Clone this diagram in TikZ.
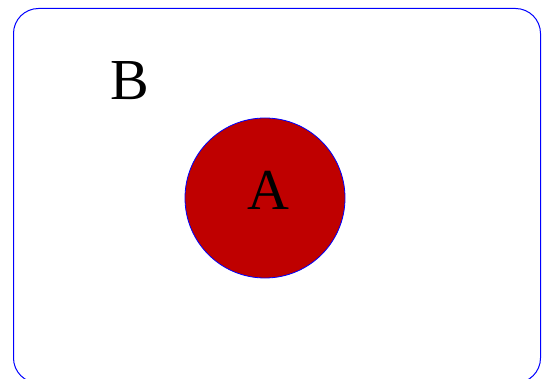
\documentclass[tikz,border=0pt]{standalone}
\usepackage{fontspec}
\setmainfont{Liberation Serif}
\tikzset{
  frame/.style={draw=blue, line width=1pt, rounded corners=25pt},
  disc/.style={circle, draw=blue, line width=0.8pt, fill={rgb,255:red,191;green,0;blue,0}, minimum size=160pt, inner sep=0pt},
  biglabel/.style={font=\fontsize{58}{60}\selectfont, inner sep=0pt}
}
\begin{document}
\begin{tikzpicture}[x=1pt,y=-1pt]
\useasboundingbox (0,0) rectangle (543,379);
\draw[frame] (13.5,8.5) rectangle (540.5,383);
\node[disc] (a) at (265,198) {};
\node[biglabel] (alabel) at (268.5,190) {A};
\node[biglabel] (b) at (130,81) {B};
\end{tikzpicture}
\end{document}
